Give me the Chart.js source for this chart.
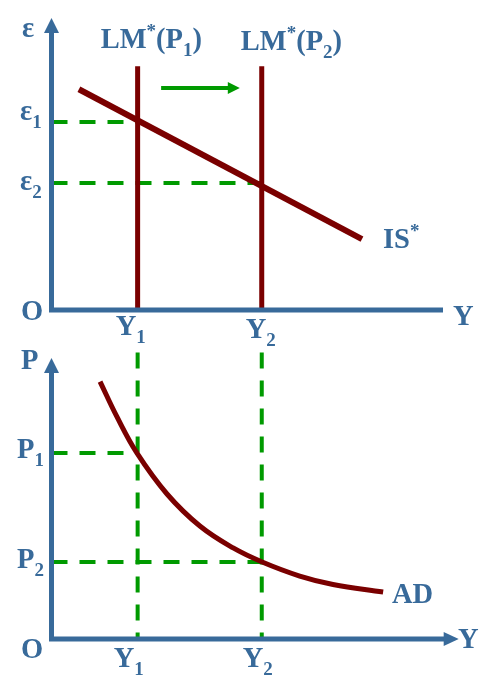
<!DOCTYPE html>
<html>
<head>
<meta charset="utf-8">
<script src="https://cdn.jsdelivr.net/npm/chart.js@4.4.1/dist/chart.umd.min.js"></script>
<style>
  body { margin: 0; background: #fff; }
  #wrap { position: relative; width: 504px; height: 692px; }
  canvas { position: absolute; left: 0; }
  #top { top: 0; }
  #bottom { top: 346px; }
</style>
</head>
<body>
<div id="wrap">
  <canvas id="top" width="504" height="346"></canvas>
  <canvas id="bottom" width="504" height="346"></canvas>
</div>
<script>
// output levels Y1, Y2 (shared by both panels)
const output = [2.2, 5.37];
// exchange rates eps1, eps2
const exchange = [6.44, 4.35];
// LM* verticals reach up to
const lmTop = 8.35;
// IS* line end points
const isX = [0.7, 7.93];
const isY = [7.56, 2.43];
// shift arrow between LM* curves
const shiftX = [2.8, 4.81];
const shiftY = 7.6;
// price levels P1, P2
const price = [6.62, 2.74];
// AD curve
const adX = [1.24, 1.67, 2.18, 2.95, 3.79, 4.64, 5.38, 6.34, 7.19, 8.47];
const adY = [9.16, 7.91, 6.62, 5.16, 4.02, 3.24, 2.74, 2.24, 1.94, 1.67];
// vertical guides in the lower panel start up here
const guideTop = 10.2;

const BLUE = '#386a9a';
const RED = '#7a0000';
const GREEN = '#009a00';
const FONT = '"Liberation Serif", "Times New Roman", serif';

function pts(xs, ys) {
    return xs.map((x, i) => ({ x: x, y: ys[i] }));
}

// draws text made of parts, e.g. ['LM', {sup:'*'}, '(P', {sub:'1'}, ')']
function rich(ctx, x, y, parts) {
    ctx.fillStyle = BLUE;
    ctx.textBaseline = 'alphabetic';
    ctx.textAlign = 'left';
    for (const p of parts) {
        let t = p, dy = 0, size = 28.5;
        if (typeof p === 'object') {
            size = 19;
            t = p.sub || p.sup;
            dy = p.sub ? 8 : -11;
        }
        ctx.font = 'bold ' + size + 'px ' + FONT;
        ctx.fillText(t, x, y + dy);
        x += ctx.measureText(t).width;
    }
}

function line(data, color, width, dash) {
    return {
        data: data,
        showLine: true,
        borderColor: color,
        borderWidth: width,
        borderDash: dash || [],
        pointRadius: 0,
        fill: false,
        clip: false
    };
}

// axes with arrows + labels, drawn after the datasets
const axesPlugin = {
    id: 'axes',
    afterDatasetsDraw(chart, args, opts) {
        const ctx = chart.ctx;
        const a = chart.chartArea;
        ctx.save();
        ctx.strokeStyle = BLUE;
        ctx.fillStyle = BLUE;
        ctx.lineWidth = 5;
        ctx.beginPath();
        ctx.moveTo(a.left, a.top + 12);
        ctx.lineTo(a.left, a.bottom);
        ctx.lineTo(opts.rightArrow ? a.right - 12 : a.right, a.bottom);
        ctx.stroke();
        // up arrow
        ctx.beginPath();
        ctx.moveTo(a.left, a.top);
        ctx.lineTo(a.left - 7.5, a.top + 15);
        ctx.lineTo(a.left + 7.5, a.top + 15);
        ctx.closePath();
        ctx.fill();
        if (opts.rightArrow) {
            ctx.beginPath();
            ctx.moveTo(a.right, a.bottom);
            ctx.lineTo(a.right - 15, a.bottom - 7);
            ctx.lineTo(a.right - 15, a.bottom + 7);
            ctx.closePath();
            ctx.fill();
        }
        opts.labels(chart, ctx);
        ctx.restore();
    }
};

// green arrow head at the end of the shift arrow
const headPlugin = {
    id: 'head',
    afterDatasetsDraw(chart, args, opts) {
        if (!opts.on) return;
        const ctx = chart.ctx;
        const x = chart.scales.x.getPixelForValue(shiftX[1]);
        const y = chart.scales.y.getPixelForValue(shiftY);
        ctx.save();
        ctx.fillStyle = GREEN;
        ctx.beginPath();
        ctx.moveTo(x, y);
        ctx.lineTo(x - 12, y - 6);
        ctx.lineTo(x - 12, y + 6);
        ctx.closePath();
        ctx.fill();
        ctx.restore();
    }
};

function baseOptions(xMax, padding, extra) {
    return {
        responsive: false,
        animation: false,
        layout: { padding: padding },
        scales: {
            x: { type: 'linear', min: 0, max: xMax, display: false },
            y: { type: 'linear', min: 0, max: 10, display: false }
        },
        plugins: Object.assign({
            legend: { display: false },
            tooltip: { enabled: false }
        }, extra)
    };
}

// ---------- top panel: IS*-LM* ----------
new Chart(document.getElementById('top'), {
    type: 'scatter',
    data: {
        datasets: [
            line([{ x: output[0], y: 0 }, { x: output[0], y: lmTop }], RED, 5),
            line([{ x: output[1], y: 0 }, { x: output[1], y: lmTop }], RED, 5),
            line(pts(isX, isY), RED, 6),
            line([{ x: shiftX[0], y: shiftY }, { x: shiftX[1] - 0.25, y: shiftY }], GREEN, 4),
            line([{ x: 0, y: exchange[0] }, { x: output[0], y: exchange[0] }], GREEN, 4, [16, 12]),
            line([{ x: 0, y: exchange[1] }, { x: output[1], y: exchange[1] }], GREEN, 4, [16, 12])
        ]
    },
    options: baseOptions(10, { left: 51.5, right: 61, top: 18, bottom: 36 }, {
        head: { on: true },
        axes: {
            rightArrow: false,
            labels: function(chart, ctx) {
                const sx = chart.scales.x, sy = chart.scales.y;
                const x1 = sx.getPixelForValue(output[0]);
                const x2 = sx.getPixelForValue(output[1]);
                const e1 = sy.getPixelForValue(exchange[0]);
                const e2 = sy.getPixelForValue(exchange[1]);
                rich(ctx, 22, 37, ['\u03b5']);
                rich(ctx, x1 - 37, 48, ['LM', { sup: '*' }, '(P', { sub: '1' }, ')']);
                rich(ctx, x2 - 21, 50, ['LM', { sup: '*' }, '(P', { sub: '2' }, ')']);
                rich(ctx, 20, e1 - 2, ['\u03b5', { sub: '1' }]);
                rich(ctx, 20, e2 + 7, ['\u03b5', { sub: '2' }]);
                rich(ctx, 21, 320, ['O']);
                rich(ctx, x1 - 22, 335, ['Y', { sub: '1' }]);
                rich(ctx, x2 - 16, 338, ['Y', { sub: '2' }]);
                rich(ctx, 383, 248, ['IS', { sup: '*' }]);
                rich(ctx, 453, 325, ['Y']);
            }
        }
    }),
    plugins: [axesPlugin, headPlugin]
});

// ---------- bottom panel: AD ----------
new Chart(document.getElementById('bottom'), {
    type: 'scatter',
    data: {
        datasets: [
            Object.assign(line(pts(adX, adY), RED, 5), { tension: 0.4 }),
            line([{ x: 0, y: price[0] }, { x: output[0], y: price[0] }], GREEN, 4, [16, 12]),
            line([{ x: 0, y: price[1] }, { x: output[1], y: price[1] }], GREEN, 4, [16, 12]),
            line([{ x: output[0], y: guideTop }, { x: output[0], y: 0 }], GREEN, 4, [16, 12]),
            line([{ x: output[1], y: guideTop }, { x: output[1], y: 0 }], GREEN, 4, [16, 12])
        ]
    },
    options: baseOptions(10.4, { left: 51.5, right: 45.3, top: 12, bottom: 53 }, {
        head: { on: false },
        axes: {
            rightArrow: true,
            labels: function(chart, ctx) {
                const sx = chart.scales.x, sy = chart.scales.y;
                const x1 = sx.getPixelForValue(output[0]);
                const x2 = sx.getPixelForValue(output[1]);
                const p1 = sy.getPixelForValue(price[0]);
                const p2 = sy.getPixelForValue(price[1]);
                rich(ctx, 21, 23, ['P']);
                rich(ctx, 17, p1 + 5, ['P', { sub: '1' }]);
                rich(ctx, 17, p2 + 6, ['P', { sub: '2' }]);
                rich(ctx, 21, 312, ['O']);
                rich(ctx, x1 - 24, 321, ['Y', { sub: '1' }]);
                rich(ctx, x2 - 19, 321, ['Y', { sub: '2' }]);
                rich(ctx, 392, 257, ['AD']);
                rich(ctx, 458, 302, ['Y']);
            }
        }
    }),
    plugins: [axesPlugin, headPlugin]
});
</script>
</body>
</html>
